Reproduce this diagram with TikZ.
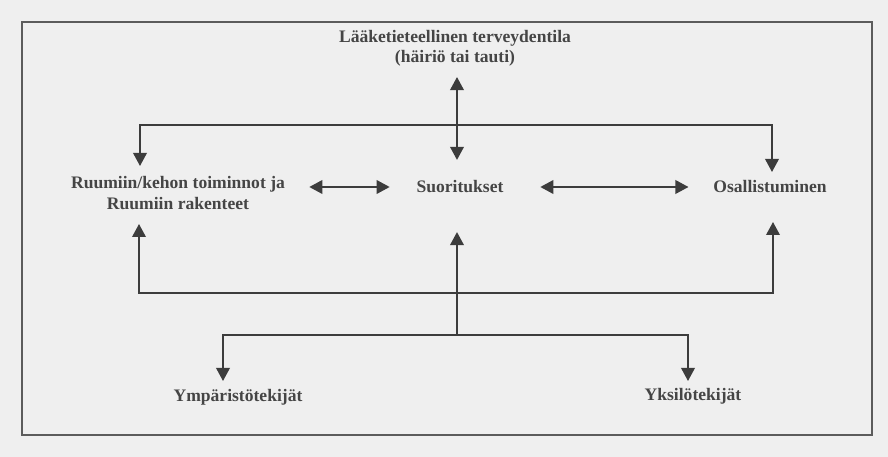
\documentclass[tikz,border=0pt]{standalone}
\usepackage{fontspec}
\setmainfont{Liberation Serif}
\usepackage{tikz}
\usetikzlibrary{positioning,arrows.meta,calc}
\definecolor{ink}      {HTML}{3C3C3C}
\definecolor{textink}  {HTML}{454545}
\definecolor{paper}    {HTML}{EFEFEF}
\definecolor{frameink} {HTML}{5C5C5C}
\tikzset{
  % --- nodes
  lbl/.style = {font=\fontsize{10}{11.6}\selectfont\bfseries, text=textink, align=center,
                inner sep=2pt},
  % --- edges
  e/.style   = {-{Triangle[length=2.6mm,width=2.7mm]}, line width=1.1pt, draw=ink},
  ee/.style  = {e, {Triangle[length=2.6mm,width=2.7mm]}-{Triangle[length=2.6mm,width=2.7mm]}},
}

\begin{document}
\begin{tikzpicture}[x=0.2mm, y=-0.2mm]
  \fill[paper] (0,0) rectangle (888,457);
  \useasboundingbox (0,0) rectangle (888,457);
  \draw[frameink, line width=1pt] (22,22) rectangle (872,435);

  \node[lbl] (health) at (455,48) {Lääketieteellinen terveydentila\\(häiriö tai tauti)};
  \node[lbl] (body)   at (178,193) {Ruumiin/kehon toiminnot ja\\Ruumiin rakenteet};
  \node[lbl] (act)    at (460,187) {Suoritukset};
  \node[lbl] (part)   at (770,187) {Osallistuminen};
  \node[lbl] (env)    at (238,397) {Ympäristötekijät};
  \node[lbl] (pers)   at (693,396) {Yksilötekijät};

  % branch points and arrow ends
  \coordinate (hbar)   at (457,125);
  \coordinate (mbar)   at (457,293);
  \coordinate (cbar)   at (457,335);
  \coordinate (bodyin) at (140,166);
  \coordinate (partin) at (772,172);
  \coordinate (bodyup) at (139,224);
  \coordinate (partup) at (773,222);
  \coordinate (envin)  at (223,381);
  \coordinate (persin) at (688,381);

  \draw[ee, shorten <=4.1mm, shorten >=4.6mm] (body.east |- act.west) -- (act.west);
  \draw[ee, shorten <=6.6mm, shorten >=4.2mm] (act.east) -- (part.west);
  \draw[ee, shorten <=1.4mm, shorten >=3.4mm] (health.south -| hbar) -- (act.north -| hbar);
  \draw[e, shorten >=7mm] (cbar) -- (act.south -| cbar);

  \foreach \from/\to in {hbar/bodyin, hbar/partin, mbar/bodyup, mbar/partup,
                         cbar/envin, cbar/persin} {
    \draw[e] (\from) -| (\to);
  }
\end{tikzpicture}
\end{document}
